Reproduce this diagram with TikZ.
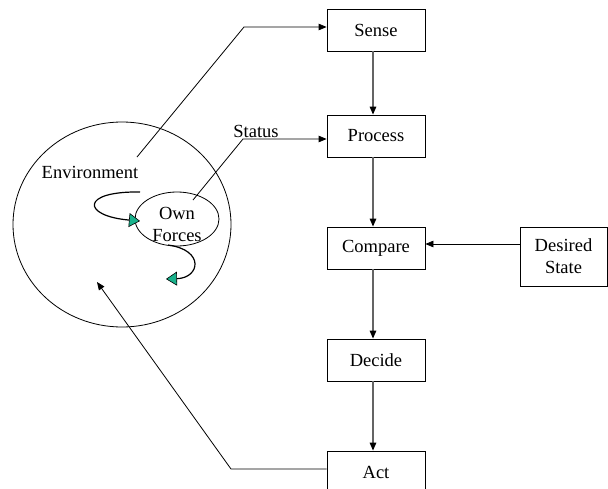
\documentclass[tikz,border=0pt]{standalone}
\usepackage{fontspec}
\setmainfont{Liberation Serif}
\usetikzlibrary{arrows.meta,shapes.geometric}
\definecolor{tealfill}{RGB}{25,178,140}
\definecolor{vline}{RGB}{100,100,100}
\tikzset{
  stepbox/.style={draw=black,line width=0.8pt,minimum width=98pt,minimum height=42pt,inner sep=0pt,align=center},
  lbl/.style={inner sep=0pt,align=center},
  arr/.style={line width=0.8pt,-{Triangle[length=8pt,width=6.5pt]}},
  varr/.style={draw=vline,line width=1.3pt,-{Triangle[length=8pt,width=6.5pt,fill=black,color=black]}},
  garr/.style={line width=1.2pt,-{Triangle[length=11pt,width=14pt,fill=tealfill,line width=0.6pt]}},
}
\begin{document}
\begin{tikzpicture}[x=1pt,y=-1pt,font=\fontsize{18.5}{22}\selectfont]
\useasboundingbox (0,0) rectangle (608,488);
\clip (0,0) rectangle (608,488);
% boxes
\node[stepbox] (sense) at (376,30) {Sense};
\node[stepbox] (process) at (376,136) {Process};
\node[stepbox] (compare) at (376,248) {Compare};
\node[stepbox] (decide) at (376,360) {Decide};
\node[stepbox] (act) at (376,472) {Act};
\node[stepbox,minimum width=87pt,minimum height=59pt] (desired) at (563.5,256.5) {Desired\\State};
% environment
\node[draw,ellipse,line width=0.8pt,minimum width=218pt,minimum height=205pt,inner sep=0pt] (env) at (122,224.5) {};
\node[lbl] (envlbl) at (90,172) {Environment};
\node[draw,ellipse,line width=0.8pt,minimum width=84pt,minimum height=54pt,inner sep=0pt] (own) at (177,219) {};
\node[lbl] (ownlbl) at (177,224) {Own\\Forces};
\node[lbl] (status) at (256,131) {Status};
% coordinates
\coordinate (e0) at (137,157);
\coordinate (e1) at (244,27);
\coordinate (s0) at (193,200);
\coordinate (s1) at (243,139);
\coordinate (a1) at (231,469);
\coordinate (a2) at (97,282);
\coordinate (cmpin) at ([yshift=4pt]compare.east);
% connectors
\draw[arr] (e0) -- (e1) -- (e1 -| sense.west);
\draw[arr] (s0) -- (s1) -- (s1 -| process.west);
\draw[arr] (cmpin -| desired.west) -- (cmpin);
\draw[arr] (a1 -| act.west) -- (a1) -- (a2);
\draw[varr] ([xshift=-3pt]sense.south) -- ([xshift=-3pt]process.north);
\draw[varr] ([xshift=-3pt]process.south) -- ([xshift=-3pt]compare.north);
\draw[varr] ([xshift=-3pt]compare.south) -- ([xshift=-3pt]decide.north);
\draw[varr] ([xshift=-3pt]decide.south) -- ([xshift=-3pt]act.north);
% curved force arrows
\coordinate (g0) at (140,192);
\coordinate (g1) at (140,221);
\coordinate (h0) at (168,245);
\coordinate (h1) at (166,279);
\draw[garr] (g0) .. controls (80,191) and (82,216) .. (g1);
\draw[garr] (h0) .. controls (205,250) and (200,278) .. (h1);
\end{tikzpicture}
\end{document}
